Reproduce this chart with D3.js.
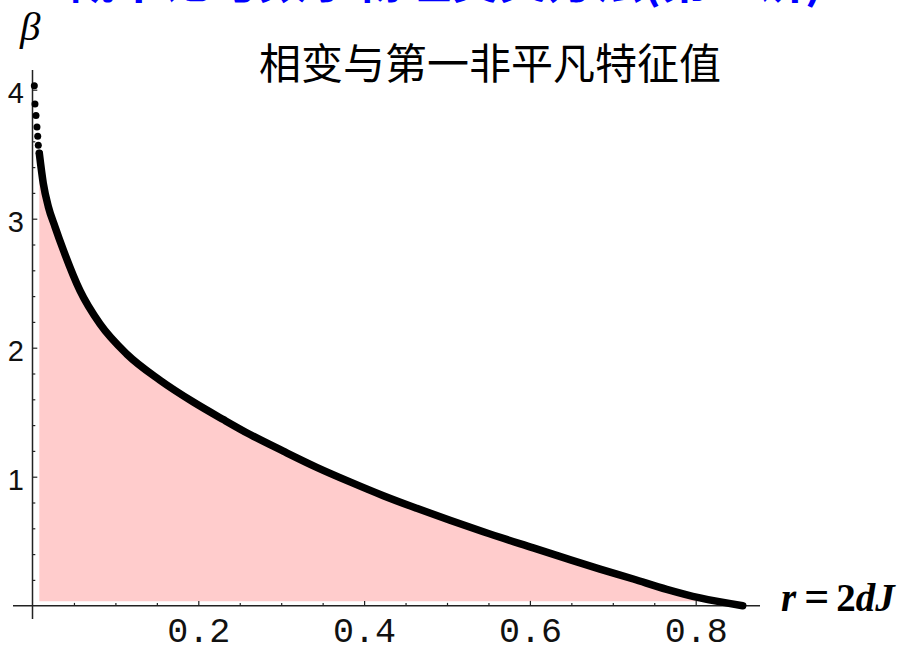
<!DOCTYPE html>
<html>
<head>
<meta charset="utf-8">
<script src="https://cdn.jsdelivr.net/npm/d3@7"></script>
<style>
  body { margin: 0; background: #fff; }
  svg { display: block; }
</style>
</head>
<body>
<svg id="chart-svg"></svg>
<script>
// datos: r = 2dJ, beta critica
var valoresR = [0.0022, 0.0030, 0.0042, 0.0054, 0.0063, 0.0070, 0.0082, 0.0130, 0.0191, 0.0271,
    0.0372, 0.0573, 0.0814, 0.1136, 0.1538, 0.1940, 0.2302, 0.2624, 0.3025, 0.3428,
    0.3830, 0.4232, 0.4635, 0.5036, 0.5438, 0.6040, 0.6444, 0.6846, 0.7247, 0.7650,
    0.8051, 0.8567];
var valoresBeta = [4.03, 3.89, 3.80, 3.71, 3.64, 3.57, 3.507, 3.274, 3.093, 2.938,
    2.757, 2.442, 2.184, 1.951, 1.748, 1.579, 1.443, 1.327, 1.198, 1.073,
    0.960, 0.853, 0.755, 0.662, 0.573, 0.448, 0.365, 0.284, 0.207, 0.127,
    0.060, 0.0];
var puntosSueltos = 7; // los primeros puntos se ven como puntos separados
var ticksX = [0.2, 0.4, 0.6, 0.8];
var etiquetasX = ["0.2", "0.4", "0.6", "0.8"];
var ticksY = [1, 2, 3, 4];
var etiquetasY = ["1", "2", "3", "4"];
var titulo = "相变与第一非平凡特征值";
var tituloAzul = "概率论与数学物理交叉方法(第一讲)";
var sueloRosa = 0.035;

var anchura = 902;
var altura = 645;

var svg = d3.select("#chart-svg")
    .attr("width", anchura)
    .attr("height", altura);

var x = d3.scaleLinear().domain([0, 0.9]).range([32.5, 32.5 + 0.9 * 829]);
var y = d3.scaleLinear().domain([0, 4.15]).range([605.7, 605.7 - 4.15 * 129]);

var datos = valoresR.map(function (r, i) { return { r: r, b: valoresBeta[i] }; });
var datosDensos = datos.slice(puntosSueltos - 1);

// titulo azul cortado arriba
svg.append("text")
    .attr("x", 445)
    .attr("y", -2)
    .attr("text-anchor", "middle")
    .style("font", "bold 48px 'Noto Sans CJK SC'")
    .style("fill", "#0000ff")
    .text(tituloAzul);

// area rosa bajo la curva
var area = d3.area()
    .x(function (d) { return x(d.r); })
    .y0(y(sueloRosa))
    .y1(function (d) { return y(Math.max(d.b, sueloRosa)); })
    .curve(d3.curveMonotoneX);

svg.append("path")
    .datum(datosDensos)
    .attr("d", area)
    .attr("fill", "#ffcccc");

// ejes
svg.append("line")
    .attr("x1", 13).attr("x2", 760)
    .attr("y1", y(0)).attr("y2", y(0))
    .attr("stroke", "#222").attr("stroke-width", 1.5);
svg.append("line")
    .attr("x1", x(0)).attr("x2", x(0))
    .attr("y1", 70).attr("y2", 619)
    .attr("stroke", "#222").attr("stroke-width", 1.5);

// ticks menores
var menoresX = d3.range(1, 18).map(function (i) { return i * 0.05; })
    .filter(function (v) { return Math.abs(v * 5 - Math.round(v * 5)) > 1e-6; });
var menoresY = d3.range(1, 21).map(function (i) { return i * 0.2; })
    .filter(function (v) { return Math.abs(v - Math.round(v)) > 1e-6; });

var ejeX = svg.append("g").attr("transform", "translate(0," + y(0) + ")");
ejeX.call(d3.axisBottom(x).tickValues(menoresX).tickSize(-2.8).tickFormat(""));
var ejeXMayor = svg.append("g").attr("transform", "translate(0," + y(0) + ")");
ejeXMayor.call(d3.axisBottom(x).tickValues(ticksX).tickSize(-4.8)
    .tickFormat(function (d, i) { return etiquetasX[i]; }));
[ejeX, ejeXMayor].forEach(function (g) {
    g.select(".domain").remove();
    g.selectAll("line").attr("stroke", "#222").attr("stroke-width", 1.2);
});
ejeXMayor.selectAll("text")
    .attr("y", 36.5).attr("dy", null)
    .style("font", "35px 'Liberation Mono'")
    .style("fill", "#111");

var ejeY = svg.append("g").attr("transform", "translate(" + x(0) + ",0)");
ejeY.call(d3.axisLeft(y).tickValues(menoresY).tickSize(-2.8).tickFormat(""));
var ejeYMayor = svg.append("g").attr("transform", "translate(" + x(0) + ",0)");
ejeYMayor.call(d3.axisLeft(y).tickValues(ticksY).tickSize(-4.8).tickPadding(8.5)
    .tickFormat(function (d, i) { return etiquetasY[i]; }));
[ejeY, ejeYMayor].forEach(function (g) {
    g.select(".domain").remove();
    g.selectAll("line").attr("stroke", "#222").attr("stroke-width", 1.2);
});
ejeYMayor.selectAll("text")
    .attr("dy", "0.45em")
    .style("font", "29px 'Liberation Sans'")
    .style("fill", "#111");

// curva: tramo denso como linea gruesa
var linea = d3.line()
    .x(function (d) { return x(d.r); })
    .y(function (d) { return y(d.b); })
    .curve(d3.curveMonotoneX);

svg.append("path")
    .datum(datosDensos)
    .attr("d", linea)
    .attr("fill", "none")
    .attr("stroke", "#000")
    .attr("stroke-width", 7.5)
    .attr("stroke-linecap", "round");

// puntos sueltos arriba
svg.selectAll(".punto")
    .data(datos.slice(0, puntosSueltos))
    .join("circle")
    .attr("class", "punto")
    .attr("cx", function (d) { return x(d.r); })
    .attr("cy", function (d) { return y(d.b); })
    .attr("r", 3.5)
    .attr("fill", "#000");

// titulo
svg.append("text")
    .attr("x", 490)
    .attr("y", 79)
    .attr("text-anchor", "middle")
    .style("font", "42px 'Noto Sans CJK SC'")
    .style("fill", "#000")
    .text(titulo);

// etiqueta beta
svg.append("text")
    .attr("x", 20)
    .attr("y", 40)
    .style("font", "italic 41px 'Liberation Serif'")
    .style("fill", "#000")
    .text("β");

// etiqueta r = 2dJ
var etiqueta = svg.append("text")
    .attr("x", 781)
    .attr("y", 611)
    .style("font", "bold 39px 'Liberation Serif'")
    .style("fill", "#000");
etiqueta.append("tspan").style("font-style", "italic").text("r");
etiqueta.append("tspan").attr("dx", 8).style("font-size", "44px").text("=");
etiqueta.append("tspan").attr("dx", 7).text("2");
etiqueta.append("tspan").style("font-style", "italic").text("dJ");
</script>
</body>
</html>
